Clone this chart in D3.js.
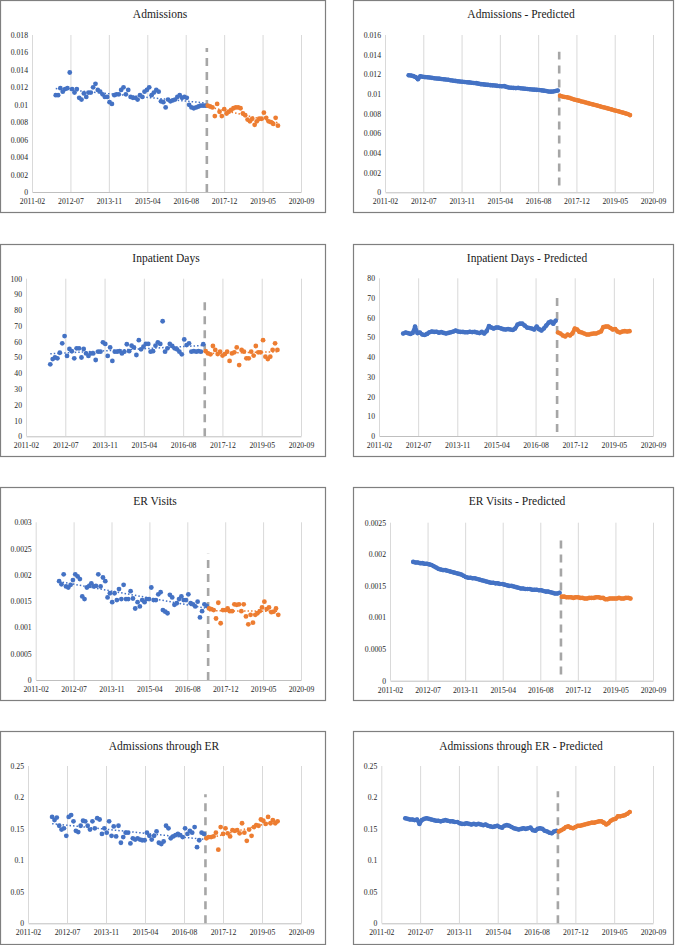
<!DOCTYPE html>
<html><head><meta charset="utf-8">
<script src="https://cdn.jsdelivr.net/npm/d3@7"></script>
<style>
html,body{margin:0;padding:0;background:#fff;}
svg{display:block;}
text{font-family:"Liberation Serif","Times New Roman",serif;}
</style></head><body>
<svg id="chart" width="680" height="945"></svg>
<script>
// ---------- DATA ----------
// x-axis tick positions (Excel date serials 40600 + k*500) and their labels
const xTickDates = ["2011-02-26","2012-07-10","2013-11-22","2015-04-06","2016-08-18","2017-12-31","2019-05-15","2020-09-26"];
const xTickLabels = ["2011-02","2012-07","2013-11","2015-04","2016-08","2017-12","2019-05","2020-09"];
// monthly observations: pre-period 2012-01..2017-05 (65), post-period 2017-06..2019-12 (31)
const preStart = "2012-01-01", postStart = "2017-06-01", postEnd = "2020-01-01";
const interventionDate = "2017-05-20";

const titles = ["Admissions","Admissions - Predicted","Inpatient Days","Inpatient Days - Predicted",
  "ER Visits","ER Visits - Predicted","Admissions through ER","Admissions through ER - Predicted"];
const yMaxes = [0.018, 0.016, 100, 80, 0.003, 0.0025, 0.25, 0.25];
const ySteps = [0.002, 0.002, 10, 10, 0.0005, 0.0005, 0.05, 0.05];
const dashRanges = [[0,0.0165],[0.0007,0.0143],[0,88],[2,70],[0,0.0024],[0.0001,0.00225],[0,0.205],[0,0.21]];

const admObsPre = [0.0111,0.0111,0.0119,0.0115,0.0118,0.0119,0.0137,0.0118,0.0114,0.0118,0.0108,0.0106,
  0.0113,0.0109,0.0114,0.0114,0.0120,0.0124,0.0117,0.0115,0.0112,0.0109,0.0109,0.0103,0.0101,0.0111,
  0.0112,0.0112,0.0117,0.0120,0.0112,0.0117,0.0109,0.0108,0.0108,0.0106,0.0111,0.0109,0.0115,0.0117,
  0.0120,0.0111,0.0114,0.0117,0.0115,0.0104,0.0103,0.0097,0.0106,0.0104,0.0105,0.0106,0.0109,0.0111,
  0.0108,0.0109,0.0108,0.0100,0.0097,0.0096,0.0097,0.0098,0.0099,0.0099,0.0099];
const admObsPost = [0.0099,0.0098,0.0097,0.0087,0.0101,0.0092,0.0087,0.0095,0.0090,0.0092,0.0094,0.0096,
  0.0097,0.0097,0.0096,0.0090,0.0088,0.0083,0.0081,0.0084,0.0077,0.0081,0.0084,0.0084,0.0091,0.0085,
  0.0081,0.0080,0.0078,0.0085,0.0076];
const admPredPre = [0.01190,0.01188,0.01182,0.01172,0.01150,0.01180,0.01176,0.01172,0.01170,0.01167,0.01164,0.01160,
  0.01158,0.01156,0.01153,0.01150,0.01147,0.01145,0.01140,0.01136,0.01133,0.01130,0.01127,0.01125,
  0.01122,0.01120,0.01118,0.01115,0.01112,0.01110,0.01105,0.01100,0.01098,0.01095,0.01093,0.01090,
  0.01088,0.01086,0.01083,0.01080,0.01078,0.01080,0.01072,0.01066,0.01064,0.01062,0.01060,0.01062,
  0.01058,0.01056,0.01053,0.01050,0.01048,0.01046,0.01044,0.01042,0.01040,0.01037,0.01034,0.01030,
  0.01026,0.01024,0.01026,0.01030,0.01036];
const admPredPost = [0.00982,0.00975,0.00970,0.00966,0.00960,0.00952,0.00944,0.00938,0.00932,0.00925,0.00920,
  0.00914,0.00907,0.00900,0.00894,0.00888,0.00882,0.00875,0.00868,0.00862,0.00856,0.00850,0.00843,
  0.00836,0.00830,0.00824,0.00817,0.00810,0.00803,0.00796,0.00785];

const ipdObsPre = [45.7,49,50,49.5,53,59,63.6,51,55.4,54,49.5,55.8,55.8,50,55.4,52.6,51,52.6,52.6,48.4,
  53.7,53.7,59.6,58.6,51,56.4,47.8,53.7,53.7,54,52.6,53.7,58.4,54,57.5,56.4,51.6,61,55.2,56.9,58.6,58.6,
  53.7,54,57.5,59.6,58.6,73,53.7,55.8,58.6,57.3,55.8,55.2,53.7,52,61.5,57.9,59,53.7,54,53.7,54,53.7,58.4];
const ipdObsPost = [54,52.6,52,57.3,54.8,52.2,53.7,51.2,52.2,53.7,47.8,52.6,53.3,56.4,45.2,54.8,53.7,49.5,
  49.5,53.7,51.2,57.3,53.3,53.3,61,50.5,49,50.5,54.8,59,54.8];
const ipdPredPre = [52.0,52.5,52.2,51.8,52.3,55.5,52.2,52.5,51.5,51.2,51.8,52.6,
  53.0,52.8,52.9,52.4,52.7,52.3,52.0,52.3,52.6,53.0,53.5,53.0,
  52.8,52.8,52.6,52.6,52.9,52.7,52.8,52.5,52.2,52.8,52.0,53.2,
  55.8,55.0,54.5,55.0,55.0,54.6,54.2,54.0,54.3,54.0,53.8,54.5,
  56.5,57.0,57.0,56.0,55.0,54.8,54.5,54.0,55.5,54.2,53.5,54.5,
  56.0,57.5,58.0,57.0,58.5];
const ipdPredPost = [52.5,52.0,51.0,50.5,51.5,51.0,52.0,54.5,54.0,52.8,52.5,52.0,51.5,51.5,51.8,52.0,
  52.0,52.5,53.0,55.3,55.5,55.5,54.8,54.0,54.3,53.0,52.5,53.0,53.2,53.0,53.2];

const erObsPre = [0.00188,0.00182,0.00201,0.00178,0.00176,0.00181,0.00190,0.00201,0.00197,0.00192,
  0.00159,0.00154,0.00176,0.00179,0.00184,0.00178,0.00179,0.00201,0.00178,0.00195,
  0.00188,0.00157,0.00165,0.00148,0.00165,0.00152,0.00173,0.00154,0.00181,0.00154,
  0.00154,0.00169,0.00155,0.00136,0.00148,0.00140,0.00152,0.00148,0.00154,0.00154,
  0.00176,0.00152,0.00152,0.00163,0.00167,0.00133,0.00130,0.00127,0.00162,0.00157,
  0.00143,0.00146,0.00154,0.00159,0.00152,0.00152,0.00163,0.00146,0.00144,0.00140,
  0.00149,0.00119,0.00131,0.00144,0.00141];
const erObsPost = [0.00136,0.00135,0.00133,0.00117,0.00147,0.00108,0.00133,0.00133,0.00136,0.00131,
  0.00131,0.00144,0.00143,0.00144,0.00131,0.00144,0.00121,0.00106,0.00124,0.00109,0.00124,0.00127,
  0.00131,0.00138,0.00149,0.00135,0.00138,0.00129,0.00130,0.00136,0.00124];
const erPredPre = [0.00188,0.00187,0.00187,0.00186,0.00186,0.00185,0.00185,0.00184,0.00183,0.00181,0.00179,0.00177,
  0.00176,0.00175,0.00175,0.00174,0.00173,0.00172,0.00171,0.00170,0.00169,0.00168,0.00166,0.00164,
  0.00163,0.00163,0.00162,0.00162,0.00161,0.00160,0.00159,0.00158,0.00157,0.00156,0.00155,0.00155,
  0.00154,0.00154,0.00153,0.00153,0.00152,0.00151,0.00150,0.00150,0.00149,0.00148,0.00147,0.00146,
  0.00146,0.00145,0.00145,0.00145,0.00144,0.00144,0.00144,0.00143,0.00143,0.00142,0.00141,0.00141,
  0.00140,0.00139,0.00138,0.00138,0.00139];
const erPredPost = [0.00133,0.00133,0.00132,0.00132,0.00132,0.00131,0.00132,0.00132,0.00131,0.00131,
  0.00130,0.00130,0.00131,0.00131,0.00131,0.00132,0.00132,0.00131,0.00131,0.00129,0.00129,0.00130,
  0.00130,0.00130,0.00130,0.00131,0.00130,0.00130,0.00131,0.00131,0.00130];

const aerObsPre = [0.169,0.164,0.168,0.155,0.149,0.151,0.139,0.169,0.172,0.162,0.147,0.145,0.155,0.163,
  0.162,0.155,0.149,0.162,0.151,0.167,0.165,0.142,0.151,0.144,0.162,0.139,0.154,0.138,0.155,0.128,
  0.137,0.144,0.144,0.127,0.135,0.133,0.135,0.133,0.132,0.132,0.144,0.139,0.133,0.139,0.146,0.128,
  0.126,0.130,0.155,0.151,0.135,0.138,0.140,0.142,0.140,0.137,0.151,0.142,0.147,0.144,0.153,0.121,
  0.132,0.144,0.142];
const aerObsPost = [0.135,0.137,0.137,0.138,0.144,0.117,0.153,0.142,0.151,0.143,0.138,0.148,0.147,0.148,
  0.143,0.159,0.144,0.131,0.149,0.139,0.153,0.156,0.155,0.165,0.163,0.158,0.169,0.159,0.164,0.159,0.162];
const aerPredPre = [0.167,0.166,0.165,0.165,0.164,0.165,0.158,0.164,0.166,0.167,0.166,0.165,
  0.164,0.163,0.163,0.162,0.163,0.164,0.163,0.162,0.162,0.161,0.161,0.159,
  0.158,0.158,0.159,0.158,0.157,0.158,0.157,0.158,0.157,0.156,0.157,0.155,
  0.154,0.153,0.154,0.155,0.153,0.152,0.155,0.156,0.155,0.153,0.151,0.150,
  0.149,0.150,0.151,0.150,0.151,0.152,0.148,0.147,0.150,0.151,0.150,0.147,
  0.146,0.144,0.143,0.146,0.147];
const aerPredPost = [0.146,0.148,0.150,0.153,0.154,0.152,0.151,0.153,0.155,0.155,0.156,0.157,0.158,0.159,
  0.160,0.160,0.161,0.162,0.162,0.160,0.157,0.159,0.163,0.165,0.166,0.170,0.170,0.171,0.172,0.174,0.177];

const seriesPre = [admObsPre, admPredPre, ipdObsPre, ipdPredPre, erObsPre, erPredPre, aerObsPre, aerPredPre];
const seriesPost = [admObsPost, admPredPost, ipdObsPost, ipdPredPost, erObsPost, erPredPost, aerObsPost, aerPredPost];
const isPredicted = [false, true, false, true, false, true, false, true];

// ---------- LAYOUT ----------
const layout = [
  {box:[0.5,0.5,325,212],   l:32,  r:301, t:35,    b:192,   tx:160, ty:18},
  {box:[353.5,0.5,320,212], l:385, r:653, t:35,    b:192.3, tx:521, ty:18},
  {box:[0.5,244.5,325,212], l:26,  r:301, t:278.7, b:436.3, tx:166, ty:262},
  {box:[353.5,244.5,320,212],l:379,r:653, t:278.3, b:436,   tx:527, ty:262},
  {box:[0.5,487.5,325,213], l:35.7,r:301, t:522.3, b:680,   tx:155, ty:505},
  {box:[353.5,487.5,320,213],l:390,r:653, t:522.7, b:680.7, tx:517, ty:505},
  {box:[0.5,731.5,325,213], l:28,  r:301, t:766,   b:923.3, tx:164, ty:749.5},
  {box:[353.5,731.5,320,213],l:381.3,r:653,t:766,  b:923.3, tx:521, ty:749.5}
];
const BLUE = "#4472C4", ORANGE = "#ED7D31";

// ---------- DRAW ----------
const svg = d3.select("#chart");
const parse = d3.utcParse("%Y-%m-%d");
const xTicks = xTickDates.map(parse);
const preDates = d3.utcMonth.range(parse(preStart), parse(postStart));
const postDates = d3.utcMonth.range(parse(postStart), parse(postEnd));
const interv = parse(interventionDate);

function regression(dates, vals) {
  const xs = dates.map(d => +d), n = xs.length;
  const mx = d3.mean(xs), my = d3.mean(vals);
  let sxy = 0, sxx = 0;
  for (let i = 0; i < n; i++) { sxy += (xs[i]-mx)*(vals[i]-my); sxx += (xs[i]-mx)**2; }
  const b = sxy/sxx, a = my - b*mx;
  return [[dates[0], a + b*xs[0]], [dates[n-1], a + b*xs[n-1]]];
}

titles.forEach((title, i) => {
  const L = layout[i];
  const g = svg.append("g");
  g.append("rect").attr("x", L.box[0]).attr("y", L.box[1]).attr("width", L.box[2]).attr("height", L.box[3])
    .attr("fill", "#fff").attr("stroke", "#7f7f7f").attr("stroke-width", 1.2);
  g.append("text").attr("x", L.tx).attr("y", L.ty).attr("text-anchor", "middle")
    .attr("font-size", "11.5px").attr("fill", "#1a1a1a").text(title);

  const x = d3.scaleUtc().domain([xTicks[0], xTicks[xTicks.length-1]]).range([L.l, L.r]);
  const y = d3.scaleLinear().domain([0, yMaxes[i]]).range([L.b, L.t]);
  const nY = Math.round(yMaxes[i]/ySteps[i]);
  const yTicks = d3.range(nY+1).map(k => k*ySteps[i]);

  const xa = g.append("g").attr("transform", `translate(0,${L.b})`)
    .call(d3.axisBottom(x).tickValues(xTicks).tickFormat((d, k) => xTickLabels[k])
      .tickSize(-(L.b - L.t)).tickSizeOuter(0).tickPadding(6.5));
  xa.selectAll(".tick line").attr("stroke", "#d9d9d9").attr("stroke-width", 1);
  xa.select(".domain").attr("stroke", "#bfbfbf").attr("stroke-width", 1);
  xa.selectAll("text").attr("font-size", "7.7px").attr("fill", "#262626")
    .attr("font-family", "Liberation Serif, Times New Roman, serif");

  const ya = g.append("g").attr("transform", `translate(${L.l},0)`)
    .call(d3.axisLeft(y).tickValues(yTicks).tickFormat(d3.format("~g")).tickSize(0).tickPadding(4));
  ya.select(".domain").remove();
  ya.selectAll("text").attr("font-size", "7.7px").attr("fill", "#262626")
    .attr("font-family", "Liberation Serif, Times New Roman, serif");

  // intervention dashed line
  g.append("line").attr("x1", x(interv)).attr("x2", x(interv))
    .attr("y1", y(dashRanges[i][0])).attr("y2", y(dashRanges[i][1]))
    .attr("stroke", "#a6a6a6").attr("stroke-width", 2.6).attr("stroke-dasharray", "8,6");

  const pre = preDates.map((d, k) => ({d, v: seriesPre[i][k]}));
  const post = postDates.map((d, k) => ({d, v: seriesPost[i][k]}));

  if (isPredicted[i]) {
    const line = d3.line().x(p => x(p.d)).y(p => y(p.v));
    [[pre, BLUE], [post, ORANGE]].forEach(([data, c]) => {
      g.append("path").datum(data).attr("d", line).attr("fill", "none").attr("stroke", c)
        .attr("stroke-width", 4).attr("stroke-linejoin", "round").attr("stroke-linecap", "round");
      g.append("g").selectAll("circle").data(data).join("circle")
        .attr("cx", p => x(p.d)).attr("cy", p => y(p.v)).attr("r", 2.3).attr("fill", c);
    });
  } else {
    [[pre, BLUE], [post, ORANGE]].forEach(([data, c]) => {
      g.append("g").selectAll("circle").data(data).join("circle")
        .attr("cx", p => x(p.d)).attr("cy", p => y(p.v)).attr("r", 2.4).attr("fill", c);
    });
    [[preDates, seriesPre[i], BLUE], [postDates, seriesPost[i], ORANGE]].forEach(([ds, vs, c]) => {
      const seg = regression(ds, vs);
      g.append("line").attr("x1", x(seg[0][0])).attr("y1", y(seg[0][1]))
        .attr("x2", x(seg[1][0])).attr("y2", y(seg[1][1]))
        .attr("stroke", c).attr("stroke-width", 1.5).attr("stroke-dasharray", "1.5,2");
    });
  }
});
</script>
</body></html>
